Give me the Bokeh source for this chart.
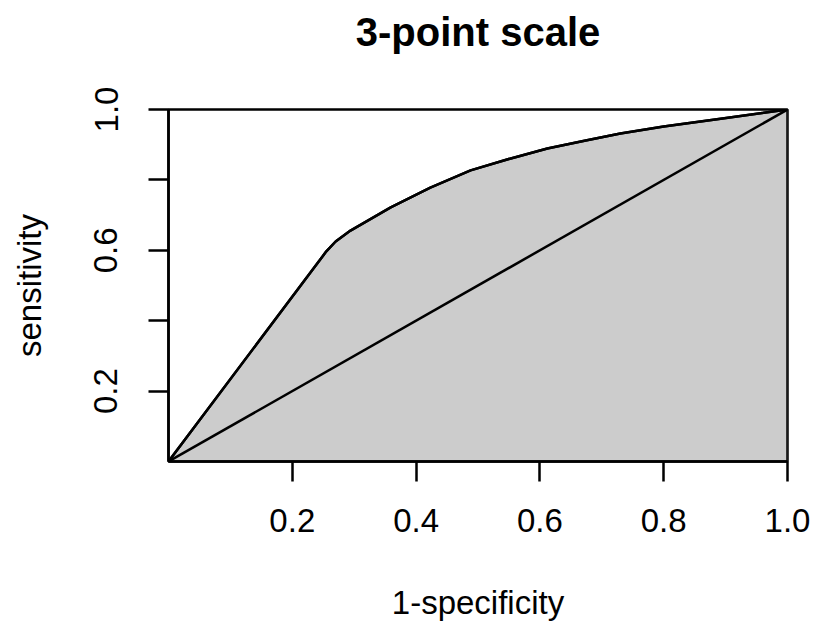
from bokeh.plotting import figure
from bokeh.models import Range1d, FixedTicker, Title
from bokeh.embed import file_html
from bokeh.resources import INLINE

# ROC curve (1-specificity, sensitivity)
fpr = [0.0, 0.255, 0.27, 0.294, 0.359, 0.423, 0.488, 0.553, 0.612, 0.674, 0.73, 0.80, 0.892, 1.0]
tpr = [0.0, 0.597, 0.625, 0.656, 0.722, 0.778, 0.827, 0.861, 0.889, 0.912, 0.932, 0.952, 0.974, 1.0]
chance_x = [0.0, 1.0]
chance_y = [0.0, 1.0]
x_ticks = [0.2, 0.4, 0.6, 0.8, 1.0]
y_ticks = [0.2, 0.4, 0.6, 0.8, 1.0]
y_hidden_labels = [0.4, 0.8]

FONT = "Liberation Sans"
LW = 2.5

p = figure(width=816, height=624, output_backend="svg", toolbar_location=None,
           x_range=Range1d(0, 1), y_range=Range1d(0, 1),
           min_border_left=168, min_border_right=29, min_border_top=109, min_border_bottom=163)
p.title = None

# spacer between frame and title, then the title itself
p.add_layout(Title(text=" ", text_font_size="44px", standoff=0), "above")
p.add_layout(Title(text="3-point scale", align="center", text_font=FONT,
                   text_font_size="40px", text_font_style="bold", text_color="black"), "above")

p.grid.visible = False
p.outline_line_color = "black"
p.outline_line_width = LW
p.background_fill_color = "white"
p.border_fill_color = "white"

# area under ROC curve
poly_x = fpr + [1.0]
poly_y = tpr + [0.0]
p.patch(poly_x, poly_y, fill_color="#cccccc", line_color="black", line_width=LW)
p.line(fpr, tpr, line_color="black", line_width=LW)
p.line(chance_x, chance_y, line_color="black", line_width=LW)

for ax in (p.xaxis[0], p.yaxis[0]):
    ax.axis_line_color = "black"
    ax.axis_line_width = LW
    ax.major_tick_line_color = "black"
    ax.major_tick_line_width = LW
    ax.major_tick_out = 20
    ax.major_tick_in = 0
    ax.minor_tick_line_color = None
    ax.major_label_text_font = FONT
    ax.major_label_text_font_size = "33px"
    ax.major_label_text_color = "black"
    ax.axis_label_text_font = FONT
    ax.axis_label_text_font_size = "33px"
    ax.axis_label_text_font_style = "normal"
    ax.axis_label_text_color = "black"

p.xaxis.ticker = FixedTicker(ticks=x_ticks)
p.yaxis.ticker = FixedTicker(ticks=y_ticks)
p.xaxis.major_label_overrides = {t: f"{t:.1f}" for t in x_ticks}
p.yaxis.major_label_overrides = {t: ("" if t in y_hidden_labels else f"{t:.1f}") for t in y_ticks}
p.yaxis.major_label_orientation = "vertical"
p.xaxis.major_label_standoff = 27
p.yaxis.major_label_standoff = 31
p.xaxis.axis_label = "1-specificity"
p.yaxis.axis_label = "sensitivity"
p.xaxis.axis_label_standoff = 49
p.yaxis.axis_label_standoff = 44

open("out.html", "w").write(file_html(p, INLINE))
